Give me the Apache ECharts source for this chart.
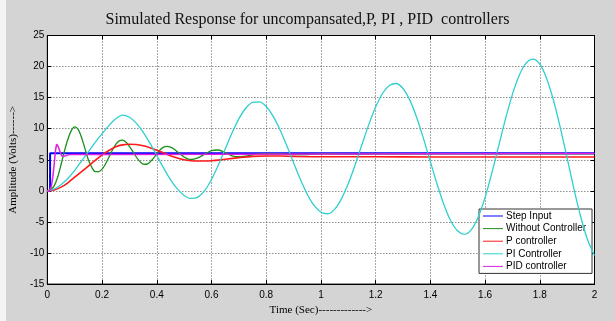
<!DOCTYPE html>
<html>
<head>
<meta charset="utf-8">
<script src="https://cdn.jsdelivr.net/npm/echarts@6/dist/echarts.min.js"></script>
<style>
html,body{margin:0;padding:0;background:#f4f4f4;}
#chart{width:615px;height:321px;}
</style>
</head>
<body>
<div id="chart"></div>
<script>
// ---- Data ----
var titleText = 'Simulated Response for uncompansated,P, PI , PID  controllers';
var xTicks = [0, 0.2, 0.4, 0.6, 0.8, 1, 1.2, 1.4, 1.6, 1.8, 2];
var yTicks = [-15, -10, -5, 0, 5, 10, 15, 20, 25];
var seriesNames = ['Step Input', 'Without Controller', 'P controller', 'PI Controller', 'PID controller'];

var stepT = [0, 0.01, 0.01, 2];
var stepY = [0, 0, 6.05, 6.05];

var greenT = [0, 0.0125, 0.025, 0.0375, 0.05, 0.0625, 0.075, 0.0875, 0.1, 0.1125, 0.125, 0.1375, 0.15, 0.1625, 0.175, 0.1875,
  0.2, 0.2125, 0.225, 0.2375, 0.25, 0.2625, 0.275, 0.2875, 0.3, 0.3125, 0.325, 0.3375, 0.35, 0.3625, 0.375, 0.3875,
  0.4, 0.4125, 0.425, 0.4375, 0.45, 0.4625, 0.475, 0.4875, 0.5, 0.5125, 0.525, 0.55, 0.575, 0.6, 0.625, 0.65, 0.675, 0.7,
  0.725, 0.75, 0.775, 0.8, 0.85, 0.9, 0.95, 1.0, 1.05, 1.1, 1.2, 1.4, 1.6, 1.8, 2.0];
var greenY = [0, 0.2, 0.8, 2.2, 4.2, 6.4, 8.3, 9.7, 10.3, 9.9, 8.6, 6.8, 5.0, 3.8, 3.1, 3.1,
  3.49, 4.33, 5.42, 6.54, 7.48, 8.05, 8.15, 7.83, 7.17, 6.32, 5.45, 4.74, 4.32, 4.28, 4.63, 5.23,
  5.95, 6.61, 7.05, 7.16, 7.03, 6.73, 6.31, 5.86, 5.45, 5.16, 5.05, 5.30, 5.91, 6.46, 6.58, 6.16, 5.64, 5.49,
  5.6, 5.8, 5.95, 6.0, 5.95, 5.85, 5.85, 5.95, 5.95, 5.9, 5.95, 5.95, 5.95, 5.95, 5.95];

var redT = [0, 0.025, 0.05, 0.075, 0.1, 0.125, 0.15, 0.175, 0.2, 0.225, 0.25, 0.275, 0.3, 0.325, 0.35, 0.375, 0.4, 0.425,
  0.45, 0.475, 0.5, 0.525, 0.55, 0.575, 0.6, 0.625, 0.65, 0.7, 0.75, 0.8, 0.85, 0.9, 1.0, 1.2, 1.4, 1.6, 1.8, 2.0];
var redY = [0, 0.15, 0.6, 1.3, 2.2, 3.1, 4.0, 4.9, 5.8, 6.5, 7.1, 7.4, 7.5, 7.45, 7.25, 6.95, 6.55, 6.1,
  5.65, 5.3, 5.0, 4.85, 4.8, 4.8, 4.85, 4.95, 5.1, 5.35, 5.55, 5.6, 5.6, 5.55, 5.5, 5.5, 5.45, 5.45, 5.45, 5.45];

var cyanT = [0, 0.025, 0.05, 0.075, 0.1, 0.125, 0.15, 0.175, 0.2, 0.225, 0.25, 0.275, 0.3, 0.325, 0.35, 0.375, 0.4,
  0.425, 0.45, 0.475, 0.5, 0.525, 0.55, 0.575, 0.6, 0.625, 0.65, 0.675, 0.7, 0.725, 0.75, 0.775, 0.8, 0.825, 0.85,
  0.875, 0.9, 0.925, 0.95, 0.975, 1.0, 1.025, 1.05, 1.075, 1.1, 1.125, 1.15, 1.175, 1.2, 1.225, 1.25, 1.275, 1.3,
  1.325, 1.35, 1.375, 1.4, 1.425, 1.45, 1.475, 1.5, 1.525, 1.55, 1.575, 1.6, 1.625, 1.65, 1.675, 1.7, 1.725, 1.75,
  1.775, 1.8, 1.825, 1.85, 1.875, 1.9, 1.925, 1.95, 1.975, 2.0];
var cyanY = [0, 0.3, 1.0, 2.0, 3.3, 4.8, 6.3, 7.8, 9.2, 10.5, 11.6, 12.2, 11.84, 10.91, 9.47, 7.68, 5.69,
  3.67, 1.82, 0.31, -0.74, -1.22, -1.01, 0.03, 1.82, 4.15, 6.74, 9.32, 11.59, 13.30, 14.25, 14.33, 13.58, 12.04, 9.88,
  7.29, 4.52, 1.83, -0.54, -2.35, -3.43, -3.68, -2.97, -1.29, 1.17, 4.19, 7.46, 10.66, 13.49, 15.67, 16.97, 17.28, 16.47,
  14.60, 11.82, 8.41, 4.70, 1.03, -2.26, -4.85, -6.47, -7.0, -6.25, -4.21, -1.04, 2.91, 7.27, 11.63, 15.53, 18.61, 20.55,
  21.2, 20.38, 18.09, 14.58, 10.18, 5.26, 0.29, -4.24, -7.90, -10.4];

var pidT = [0, 0.008, 0.015, 0.02, 0.025, 0.03, 0.034, 0.04, 0.047, 0.053, 0.058, 0.065, 0.075, 0.09, 0.24, 0.245, 2.0];
var pidY = [0, 0, 0.8, 2.2, 4.3, 6.6, 7.5, 7.1, 6.2, 5.6, 5.45, 5.6, 5.8, 5.85, 5.85, 6.02, 6.02];

var colors = ['#0000ff', '#1a8f1a', '#ff1a1a', '#2fcfcf', '#e020e0'];

function pairs(t, y) { return t.map(function (v, i) { return [v, y[i]]; }); }

var chart = echarts.init(document.getElementById('chart'), null, {renderer: 'canvas'});

var gridLeft = 43.5, gridTop = 35.5, gridW = 551, gridH = 252;

function axisCommon(extra) {
  var a = {
    type: 'value',
    axisLine: {show: true, onZero: false, lineStyle: {color: '#000', width: 1}},
    axisTick: {show: true, inside: true, length: 4, lineStyle: {color: '#000'}},
    splitLine: {show: false},
    axisLabel: {show: false}
  };
  for (var k in extra) a[k] = extra[k];
  return a;
}

var option = {
  backgroundColor: '#d4d4d4',
  animation: false,
  color: colors,
  title: {
    text: titleText,
    left: 'center',
    top: 7,
    textStyle: {fontFamily: 'Liberation Serif', fontSize: 16, fontWeight: 'normal', color: '#111'}
  },
  legend: {
    data: seriesNames,
    orient: 'vertical',
    left: 479,
    top: 209,
    width: 110,
    backgroundColor: '#ffffff',
    borderColor: '#333',
    borderWidth: 1,
    borderRadius: 0,
    padding: [2, 6, 2, 4],
    itemGap: 2.6,
    itemWidth: 20,
    itemHeight: 10,
    icon: 'path://M0,4.5H20V5.5H0Z',
    textStyle: {fontFamily: 'Liberation Sans', fontSize: 10, color: '#000', padding: [0, 0, 0, -2]}
  },
  grid: {
    left: gridLeft, top: gridTop, width: gridW, height: gridH,
    show: true, backgroundColor: '#ffffff', borderColor: '#000', borderWidth: 1, containLabel: false
  },
  xAxis: [
    axisCommon({
      min: 0, max: 2, interval: 0.2, position: 'bottom',
      axisLabel: {show: true, color: '#000', fontFamily: 'Liberation Sans', fontSize: 10, margin: 6,
        formatter: function (v) { return xTicks.indexOf(Math.round(v * 10) / 10) >= 0 ? String(Math.round(v * 10) / 10) : ''; }},
      splitLine: {show: true, lineStyle: {color: '#555', type: [1, 2], width: 1}},
      name: 'Time (Sec)------------->',
      nameLocation: 'middle',
      nameGap: 17,
      nameTextStyle: {fontFamily: 'Liberation Serif', fontSize: 11, color: '#000'}
    }),
    axisCommon({min: 0, max: 2, interval: 0.2, position: 'top'})
  ],
  yAxis: [
    axisCommon({
      min: -15, max: 25, interval: 5, position: 'left',
      axisLabel: {show: true, color: '#000', fontFamily: 'Liberation Sans', fontSize: 10, margin: 3,
        formatter: function (v) { return yTicks.indexOf(v) >= 0 ? String(v) : ''; }},
      splitLine: {show: true, lineStyle: {color: '#555', type: [1, 2], width: 1}},
      name: 'Amplitude (Volts)------>',
      nameLocation: 'middle',
      nameGap: 19,
      nameTextStyle: {fontFamily: 'Liberation Serif', fontSize: 11, color: '#000'}
    }),
    axisCommon({min: -15, max: 25, interval: 5, position: 'right'})
  ],
  series: [
    {name: seriesNames[0], type: 'line', data: pairs(stepT, stepY), showSymbol: false, lineStyle: {width: 2}, z: 2},
    {name: seriesNames[1], type: 'line', data: pairs(greenT, greenY), showSymbol: false, smooth: 0.3, lineStyle: {width: 1.3}, z: 3},
    {name: seriesNames[2], type: 'line', data: pairs(redT, redY), showSymbol: false, smooth: 0.3, lineStyle: {width: 1.6}, z: 4},
    {name: seriesNames[3], type: 'line', data: pairs(cyanT, cyanY), showSymbol: false, smooth: 0.3, lineStyle: {width: 1.3}, z: 5},
    {name: seriesNames[4], type: 'line', data: pairs(pidT, pidY), showSymbol: false, lineStyle: {width: 1.5}, z: 6}
  ],
  graphic: [
    {type: 'rect', left: 0, top: 0, shape: {x: 0, y: 0, width: 6, height: 321}, style: {fill: '#f4f4f4'}, silent: true}
  ]
};
chart.setOption(option);
</script>
</body>
</html>
